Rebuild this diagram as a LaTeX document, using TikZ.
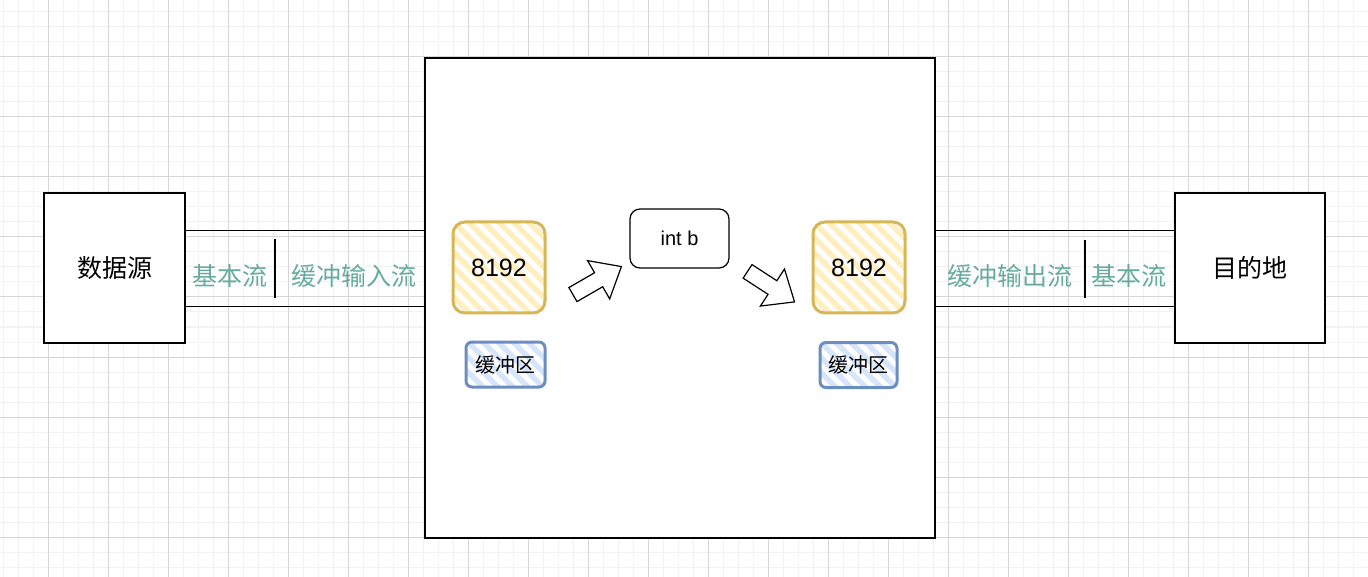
\documentclass[tikz,border=0pt]{standalone}
\usepackage{fontspec}
\setmainfont{Liberation Sans}
\newfontfamily\cjk{Noto Sans CJK SC}
\usepackage{xcolor}
\usetikzlibrary{shapes.arrows}
\usetikzlibrary{calc}

\definecolor{gridminor}{HTML}{F2F2F2}
\definecolor{gridmajor}{HTML}{D6D6D6}
\definecolor{ybord}{HTML}{D6B656}
\definecolor{yfill}{HTML}{FFEEBE}
\definecolor{bbord}{HTML}{6C8EBF}
\definecolor{bfill}{HTML}{D6E5FB}
\definecolor{streamtxt}{HTML}{67AB9F}

\begin{document}
\begin{tikzpicture}[x=1pt,y=-1pt,
	box/.style={draw,fill=white,line width=1.2pt,inner sep=0pt},
	wire/.style={line width=1.2pt},
	hatch/.style={path picture={
		\foreach \k in {-120,-105,...,120}
			\draw[#1,line width=5.5pt] ([xshift=\k pt]path picture bounding box.center) ++(-70,-70) -- ++(140,140);
	}},
	bufbox/.style={draw=ybord,fill=white,line width=3pt,rounded corners=12pt,minimum width=92pt,minimum height=91pt,hatch=yfill,font=\fontsize{25}{30}\selectfont},
	bufname/.style={draw=bbord,fill=white,line width=3pt,rounded corners=6pt,minimum height=45pt,hatch=bfill,font=\cjk\fontsize{20}{24}\selectfont},
	streamlbl/.style={text=streamtxt,font=\cjk\fontsize{25}{30}\selectfont},
	blockarrow/.style={draw,line width=1.2pt,fill=white,single arrow,inner xsep=0pt,inner ysep=7.5pt,
		minimum width=0pt,minimum height=56pt,single arrow head extend=14pt,single arrow tip angle=80}
]
	\useasboundingbox (0,0) rectangle (1368,577);
	\clip (0,0) rectangle (1368,577);

	% grid
	\draw[gridminor,line width=1pt,xshift=3pt,yshift=-12pt] (-15,-15) grid[step=15pt] (1380,600);
	\draw[gridmajor,line width=1pt,xshift=48pt,yshift=-57pt] (-60,-60) grid[step=60pt] (1380,600);

	% ends
	\node[box,minimum width=141pt,minimum height=150pt,font=\cjk\fontsize{25}{30}\selectfont] (src) at (114.5,268) {数据源};
	\node[box,minimum width=150pt,minimum height=150pt,font=\cjk\fontsize{25}{30}\selectfont] (dst) at (1250,268) {目的地};
	\node[box,minimum width=510pt,minimum height=480pt] (prog) at (680,298) {};

	% streams
	\coordinate (s1) at ([yshift=-38pt]src.north east);
	\coordinate (s2) at ([yshift=37pt]src.south east);
	\coordinate (d1) at ([yshift=-38pt]dst.north west);
	\coordinate (d2) at ([yshift=37pt]dst.south west);
	\draw[wire] (s1) -- (s1 -| prog.west);
	\draw[wire] (s2) -- (s2 -| prog.west);
	\draw[wire] (d1) -- (d1 -| prog.east);
	\draw[wire] (d2) -- (d2 -| prog.east);

	\node[streamlbl] (inbase) at (230,276) {基本流};
	\node[streamlbl] (inbuf) at (354,276) {缓冲输入流};
	\node[streamlbl] (outbuf) at (1010,276) {缓冲输出流};
	\node[streamlbl] (outbase) at (1129,276) {基本流};
	\draw[wire] (275,239) -- (275,298);
	\draw[wire] (1085,240) -- (1085,298);

	% buffers
	\node[bufbox] (inarr) at (499,267.5) {8192};
	\node[bufbox] (outarr) at (859,267.5) {8192};
	\node[bufname,minimum width=79pt] (inname) at (505.5,364.5) {缓冲区};
	\node[bufname,minimum width=77pt] (outname) at (858.5,365) {缓冲区};

	\node[box,rounded corners=10pt,minimum width=99pt,minimum height=59pt,font=\fontsize{20}{24}\selectfont] (var) at (679.5,238.5) {int b};

	\node[blockarrow,rotate=30] (up) at (593,283) {};
	\node[blockarrow,rotate=-33] (down) at (767,284) {};

\end{tikzpicture}
\end{document}
